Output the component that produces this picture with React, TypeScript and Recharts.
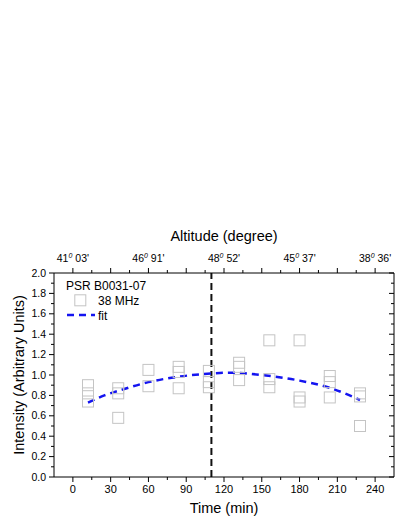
import React from "react";
import {
  ComposedChart,
  Line,
  ReferenceLine,
  Scatter,
  XAxis,
  YAxis,
} from "recharts";

// observed intensities at 38 MHz, sampled every 24 min
const obsTime = [
  12, 12, 12, 36, 36, 36, 60, 60, 84, 84, 84, 108, 108, 108, 132, 132, 132,
  156, 156, 156, 180, 180, 180, 204, 204, 204, 228, 228, 228,
];
const obsIntensity = [
  0.9, 0.82, 0.74, 0.87, 0.82, 0.58, 1.05, 0.89, 1.08, 1.03, 0.87, 1.04, 0.93,
  0.88, 1.12, 1.08, 0.95, 1.34, 0.96, 0.88, 1.34, 0.78, 0.74, 0.99, 0.93, 0.78,
  0.82, 0.79, 0.5,
];

// fitted curve
const fitTime = [12, 25, 40, 60, 85, 110, 125, 150, 180, 205, 228];
const fitValue = [0.73, 0.8, 0.86, 0.93, 0.985, 1.015, 1.023, 1.0, 0.945, 0.87, 0.755];

// transit marker
const transitTime = 110;

const timeTicks = [0, 15, 30, 45, 60, 75, 90, 105, 120, 135, 150, 165, 180, 195, 210, 225, 240];
const intensityTicks = [
  0, 0.1, 0.2, 0.3, 0.4, 0.5, 0.6, 0.7, 0.8, 0.9, 1.0, 1.1, 1.2, 1.3, 1.4, 1.5,
  1.6, 1.7, 1.8, 1.9, 2.0,
];

// altitude labels along the top axis
const altitudeAt = [0, 60, 120, 180, 240];
const altitudeDeg = ["41", "46", "48", "45", "38"];
const altitudeMin = ["03'", "91'", "52'", "37'", "36'"];

const FONT = "Arial, 'Liberation Sans', sans-serif";
const SQUARE = "#c4c4c4";
const FIT = "#1414f0";

const obsData = obsTime.map((t, i) => ({ t, v: obsIntensity[i] }));
const fitData = fitTime.map((t, i) => ({ t, v: fitValue[i] }));

const SquareShape = (props: any) => {
  const { cx, cy } = props;
  if (cx == null || cy == null) return <g />;
  return (
    <rect x={cx - 5.5} y={cy - 5.5} width={11} height={11} fill="none" stroke={SQUARE} strokeWidth={1} />
  );
};

const BottomTick = ({ x, y, payload }: any) => {
  const major = payload.value % 30 === 0;
  return (
    <g>
      <line x1={x} x2={x} y1={y} y2={y + (major ? 5 : 3)} stroke="#000" />
      {major && (
        <text x={x} y={y + 16} textAnchor="middle" fontSize={11} fontFamily={FONT} fill="#000">
          {payload.value}
        </text>
      )}
    </g>
  );
};

const TopTick = ({ x, y, payload }: any) => {
  const major = payload.value % 30 === 0;
  const idx = altitudeAt.indexOf(payload.value);
  return (
    <g>
      <line x1={x} x2={x} y1={y} y2={y - (major ? 5 : 3)} stroke="#000" />
      {idx >= 0 && (
        <text x={x} y={y - 11} textAnchor="middle" fontSize={10.5} fontFamily={FONT} fill="#000">
          <tspan>{altitudeDeg[idx]}</tspan>
          <tspan dy={-4} fontSize={7} fontStyle="italic">0</tspan>
          <tspan dy={4}>{" " + altitudeMin[idx]}</tspan>
        </text>
      )}
    </g>
  );
};

const LeftTick = ({ x, y, payload }: any) => {
  const major = Math.round(payload.value * 10) % 2 === 0;
  return (
    <g>
      <line x1={x - (major ? 5 : 3)} x2={x} y1={y} y2={y} stroke="#000" />
      {major && (
        <text x={x - 8} y={y} dy="0.35em" textAnchor="end" fontSize={10.5} fontFamily={FONT} fill="#000">
          {payload.value.toFixed(1)}
        </text>
      )}
    </g>
  );
};

const RightTick = ({ x, y, payload }: any) => {
  const major = Math.round(payload.value * 10) % 2 === 0;
  return <line x1={x - (major ? 5 : 3)} x2={x} y1={y} y2={y} stroke="#000" />;
};

export default function App() {
  return (
    <div style={{ position: "relative", width: 390, height: 510 }}>
      <ComposedChart
        width={390}
        height={510}
        margin={{ top: 220, right: 0, bottom: 0, left: 0 }}
      >
        <XAxis
          dataKey="t"
          type="number"
          domain={[-15, 255]}
          ticks={timeTicks}
          interval={0}
          height={41}
          tickSize={0}
          tickMargin={0}
          tickLine={false}
          tick={<BottomTick />}
          axisLine={{ stroke: "#000" }}
          label={{
            value: "Time (min)",
            position: "insideBottom",
            offset: 5,
            style: { fontSize: 14.5, fontFamily: FONT, fill: "#000" },
          }}
        />
        <XAxis
          xAxisId="top"
          orientation="top"
          dataKey="t"
          type="number"
          domain={[-15, 255]}
          ticks={timeTicks}
          interval={0}
          height={45}
          tickSize={0}
          tickMargin={0}
          tickLine={false}
          tick={<TopTick />}
          axisLine={{ stroke: "#000" }}
          label={{
            value: "Altitude (degree)",
            position: "insideTop",
            offset: 3,
            style: { fontSize: 14.5, fontFamily: FONT, fill: "#000" },
          }}
        />
        <YAxis
          dataKey="v"
          type="number"
          domain={[0, 2]}
          ticks={intensityTicks}
          interval={0}
          width={46}
          tickSize={0}
          tickMargin={0}
          tickLine={false}
          tick={<LeftTick />}
          axisLine={{ stroke: "#000" }}
          label={{
            value: "Intensity (Arbitrary Units)",
            angle: -90,
            position: "insideLeft",
            offset: 11,
            style: { fontSize: 14.5, fontFamily: FONT, fill: "#000", textAnchor: "middle" },
          }}
        />
        <YAxis
          yAxisId="right"
          orientation="right"
          dataKey="v"
          type="number"
          domain={[0, 2]}
          ticks={intensityTicks}
          interval={0}
          width={4}
          tickSize={0}
          tickMargin={0}
          tickLine={false}
          tick={<RightTick />}
          axisLine={{ stroke: "#000" }}
        />
        <ReferenceLine
          x={transitTime}
          stroke="#111"
          strokeWidth={2}
          strokeDasharray="7 4"
          ifOverflow="visible"
        />
        <Scatter
          data={obsData}
          dataKey="v"
          shape={<SquareShape />}
          isAnimationActive={false}
        />
        {/* invisible copy of the fit so the top / right axes get a series */}
        <Line
          xAxisId="top"
          yAxisId="right"
          data={fitData}
          dataKey="v"
          stroke="none"
          dot={false}
          activeDot={false}
          legendType="none"
          isAnimationActive={false}
        />
        <Line
          data={fitData}
          dataKey="v"
          type="monotone"
          stroke={FIT}
          strokeWidth={2.5}
          strokeDasharray="7 5"
          dot={false}
          activeDot={false}
          isAnimationActive={false}
        />
      </ComposedChart>
      <svg
        width={390}
        height={510}
        style={{ position: "absolute", left: 0, top: 0, pointerEvents: "none" }}
      >
        <text x={58} y={281.5} fontSize={12} fontFamily={FONT} fill="#000">
          PSR B0031-07
        </text>
        <rect x={66.8} y={286.8} width={11} height={11} fill="none" stroke={SQUARE} />
        <text x={90} y={296.5} fontSize={12} fontFamily={FONT} fill="#000">
          38 MHz
        </text>
        <line x1={59} x2={87} y1={307} y2={307} stroke={FIT} strokeWidth={2.5} strokeDasharray="7 5" />
        <text x={90} y={311.5} fontSize={12} fontFamily={FONT} fill="#000">
          fit
        </text>
      </svg>
    </div>
  );
}
